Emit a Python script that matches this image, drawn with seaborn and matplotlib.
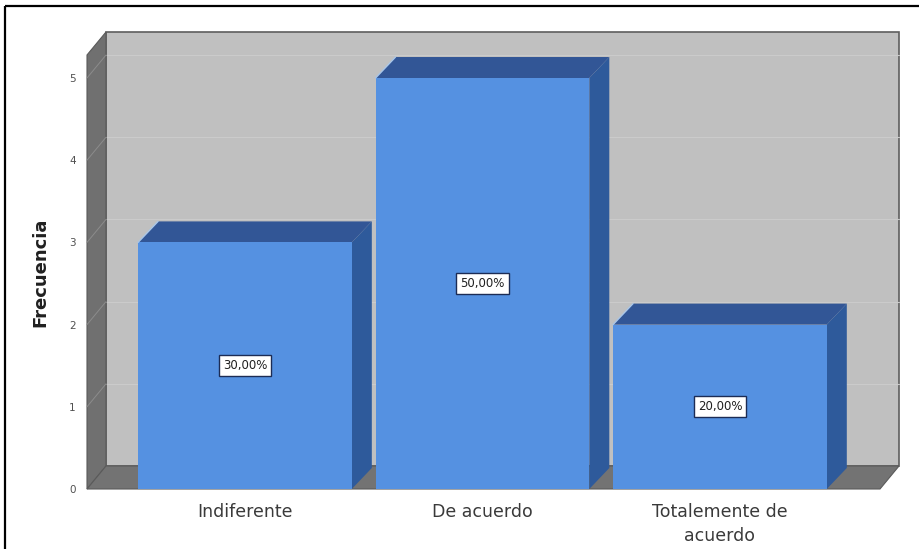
import matplotlib
matplotlib.use("Agg")
import matplotlib.pyplot as plt
from matplotlib.patches import Polygon, Rectangle
from matplotlib.lines import Line2D
import seaborn as sns
import pandas as pd

# Response categories and their frequencies
categories = ["Indiferente", "De acuerdo", "Totalemente de\nacuerdo"]
frequencies = [3, 5, 2]
percent_labels = ["30,00%", "50,00%", "20,00%"]
y_ticks = [0, 1, 2, 3, 4, 5]

df = pd.DataFrame({"categoria": categories, "frecuencia": frequencies})

sns.set_style("white")
plt.rcParams["font.family"] = ["DejaVu Sans"]

W, H = 920, 549
fig = plt.figure(figsize=(W / 100, H / 100), dpi=100)
fig.patch.set_facecolor("white")

# front plane of the pseudo-3D frame, in pixels
x_left, x_right, y_bottom, y_top = 87, 880, 489, 55
ax = fig.add_axes([x_left / W, (H - y_bottom) / H,
                   (x_right - x_left) / W, (y_bottom - y_top) / H])
ax.set_facecolor("none")

xmin, xmax = -0.665, 2.674
ymin, ymax = 0, 5.28
ax.set_xlim(xmin, xmax)
ax.set_ylim(ymin, ymax)

# pixel -> data conversion for the depth offsets
px_x = (xmax - xmin) / (x_right - x_left)
px_y = (ymax - ymin) / (y_bottom - y_top)
wdx, wdy = 19 * px_x, 23 * px_y      # walls
bdx, bdy = 20 * px_x, 21 * px_y      # bars

wall_col = "#c0c0c0"
side_col = "#707070"
floor_col = "#737373"

# back wall
ax.add_patch(Rectangle((xmin + wdx, wdy), (xmax - xmin), ymax, facecolor=wall_col,
                       edgecolor="#5e5e5e", linewidth=1.2, zorder=0.5, clip_on=False))
# grid on the back wall and the matching lines on the side wall
for t in y_ticks[1:]:
    ax.plot([xmin + wdx, xmax + wdx], [t + wdy, t + wdy], color="#cbcbcb",
            lw=0.8, zorder=0.6, clip_on=False)
    ax.plot([xmin, xmin + wdx], [t, t + wdy], color="#8c8c8c", lw=0.7,
            zorder=1.1, clip_on=False)
# left side wall
ax.add_patch(Polygon([(xmin, 0), (xmin, ymax), (xmin + wdx, ymax + wdy), (xmin + wdx, wdy)],
                     closed=True, facecolor=side_col, edgecolor="#5a5a5a", lw=0.8,
                     zorder=1, clip_on=False))
# floor
ax.add_patch(Polygon([(xmin, 0), (xmax, 0), (xmax + wdx, wdy), (xmin + wdx, wdy)],
                     closed=True, facecolor=floor_col, edgecolor="#5a5a5a", lw=0.8,
                     zorder=1, clip_on=False))

# front faces of the bars
sns.barplot(data=df, x="categoria", y="frecuencia", order=categories,
            color="#5591e1", saturation=1, width=0.9, ax=ax, zorder=3,
            edgecolor="none", linewidth=0)
ax.set_xlim(xmin, xmax)
ax.set_ylim(ymin, ymax)

top_col = "#325696"
right_col = "#2e5a9b"
for patch, lab in zip(ax.patches[-len(categories):], percent_labels):
    x0 = patch.get_x()
    x1 = x0 + patch.get_width()
    h = patch.get_height()
    ax.add_patch(Polygon([(x1, 0), (x1, h), (x1 + bdx, h + bdy), (x1 + bdx, bdy)],
                         closed=True, facecolor=right_col, edgecolor="none",
                         zorder=2.9, clip_on=False))
    ax.add_patch(Polygon([(x0, h), (x1, h), (x1 + bdx, h + bdy), (x0 + bdx, h + bdy)],
                         closed=True, facecolor=top_col, edgecolor="none",
                         zorder=2.9, clip_on=False))
    ax.plot([x0, x0 + bdx], [h, h + bdy], color="#a9c6e8", lw=1.0, zorder=3.1,
            clip_on=False)
    ax.text((x0 + x1) / 2, h / 2, lab, ha="center", va="center", fontsize=8.5,
            color="#202020", zorder=5,
            bbox=dict(boxstyle="square,pad=0.35", facecolor="white",
                      edgecolor="#1c2c55", linewidth=1.0))

for s in ax.spines.values():
    s.set_visible(False)

ax.set_yticks(y_ticks)
ax.set_yticklabels([str(t) for t in y_ticks], fontsize=7.5, color="#505050")
ax.tick_params(axis="y", length=0, pad=8)
ax.set_xticks(range(len(categories)))
ax.set_xticklabels(categories, fontsize=12.5, color="#3a3a3a", linespacing=1.45)
ax.tick_params(axis="x", length=0, pad=10)
ax.set_xlabel("")
ax.set_ylabel("Frecuencia", fontsize=13, fontweight="bold", color="#202020",
              labelpad=14)

# outer frame
fig.add_artist(Line2D([5 / W, 1.01], [1 - 6 / H, 1 - 6 / H], transform=fig.transFigure,
                      color="black", lw=1.6, solid_capstyle="butt"))
fig.add_artist(Line2D([5 / W, 5 / W], [-0.01, 1 - 6 / H], transform=fig.transFigure,
                      color="black", lw=1.6, solid_capstyle="butt"))

fig.savefig("out.png", dpi=100)
